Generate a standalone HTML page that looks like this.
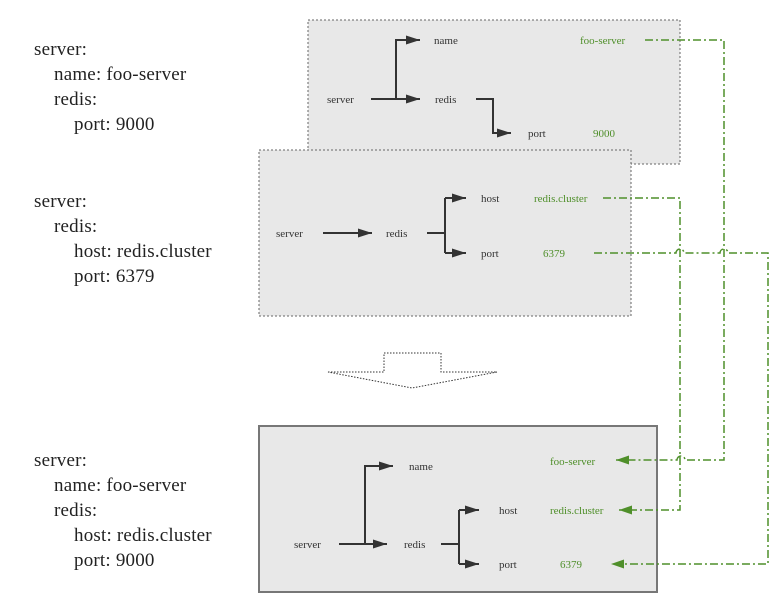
<!DOCTYPE html>
<html><head><meta charset="utf-8"><style>
html,body{margin:0;padding:0;background:#fff;}
svg{display:block;}
</style></head><body>
<svg width="782" height="612" viewBox="0 0 782 612" xmlns="http://www.w3.org/2000/svg" font-family="Liberation Serif, serif">
<defs>
<marker id="a" markerWidth="14" markerHeight="9" refX="14" refY="4.5" orient="auto" markerUnits="userSpaceOnUse"><path d="M0,0 L14,4.5 L0,9 Z" fill="#333"/></marker>
<marker id="g" markerWidth="13" markerHeight="9" refX="13" refY="4.5" orient="auto" markerUnits="userSpaceOnUse"><path d="M0,0 L13,4.5 L0,9 Z" fill="#4f8f2a"/></marker>
</defs>
<g font-size="19" fill="#222" letter-spacing="0.2">
<text x="34" y="55">server:</text><text x="54" y="80">name: foo-server</text><text x="54" y="105">redis:</text><text x="74" y="130">port: 9000</text>
<text x="34" y="207">server:</text><text x="54" y="232">redis:</text><text x="74" y="257">host: redis.cluster</text><text x="74" y="282">port: 6379</text>
<text x="34" y="466">server:</text><text x="54" y="491">name: foo-server</text><text x="54" y="516">redis:</text><text x="74" y="541">host: redis.cluster</text><text x="74" y="566">port: 9000</text>
</g>
<rect x="308" y="20" width="372" height="144" fill="#e8e8e8" stroke="#666" stroke-dasharray="2,2"/>
<rect x="259" y="150" width="372" height="166" fill="#e8e8e8" stroke="#666" stroke-dasharray="2,2"/>
<rect x="259" y="426" width="398" height="166" fill="#e8e8e8" stroke="#777" stroke-width="2"/>
<polygon points="328,372 384,372 384,353 441,353 441,372 497,372 412,388" fill="none" stroke="#333" stroke-dasharray="1.5,1.5"/>
<g fill="none" stroke="#333" stroke-width="2">
<path d="M371,99 H420" marker-end="url(#a)"/><path d="M396,99 V40 H420" marker-end="url(#a)"/>
<path d="M476,99 H493 V133 H511" marker-end="url(#a)"/>
<path d="M323,233 H372" marker-end="url(#a)"/>
<path d="M427,233 H445"/><path d="M445,198 V253"/><path d="M445,198 H466" marker-end="url(#a)"/><path d="M445,253 H466" marker-end="url(#a)"/>
<path d="M339,544 H387" marker-end="url(#a)"/><path d="M365,544 V466 H393" marker-end="url(#a)"/>
<path d="M441,544 H459"/><path d="M459,510 V564"/><path d="M459,510 H479" marker-end="url(#a)"/><path d="M459,564 H479" marker-end="url(#a)"/>
</g>
<g font-size="11" fill="#333">
<text x="434" y="44">name</text><text x="327" y="103">server</text><text x="435" y="103">redis</text><text x="528" y="137">port</text>
<text x="276" y="237">server</text><text x="386" y="237">redis</text><text x="481" y="202">host</text><text x="481" y="257">port</text>
<text x="409" y="470">name</text><text x="294" y="548">server</text><text x="404" y="548">redis</text><text x="499" y="514">host</text><text x="499" y="568">port</text>
</g>
<g font-size="11" fill="#4f8f2a">
<text x="580" y="44">foo-server</text><text x="593" y="137">9000</text>
<text x="534" y="202">redis.cluster</text><text x="543" y="257">6379</text>
<text x="550" y="465">foo-server</text><text x="550" y="514">redis.cluster</text><text x="560" y="568">6379</text>
</g>
<g fill="none" stroke="#4f8f2a" stroke-width="1.5" stroke-dasharray="8,3,2,3">
<path d="M645,40 H724 V460 H685 A4,4 0 0 0 677,460 H616" marker-end="url(#g)"/>
<path d="M603,198 H680 V510 H619" marker-end="url(#g)"/>
<path d="M594,253 H676 A4,4 0 0 1 684,253 H720 A4,4 0 0 1 728,253 H768 V564 H611" marker-end="url(#g)"/>
</g>
</svg>
</body></html>
